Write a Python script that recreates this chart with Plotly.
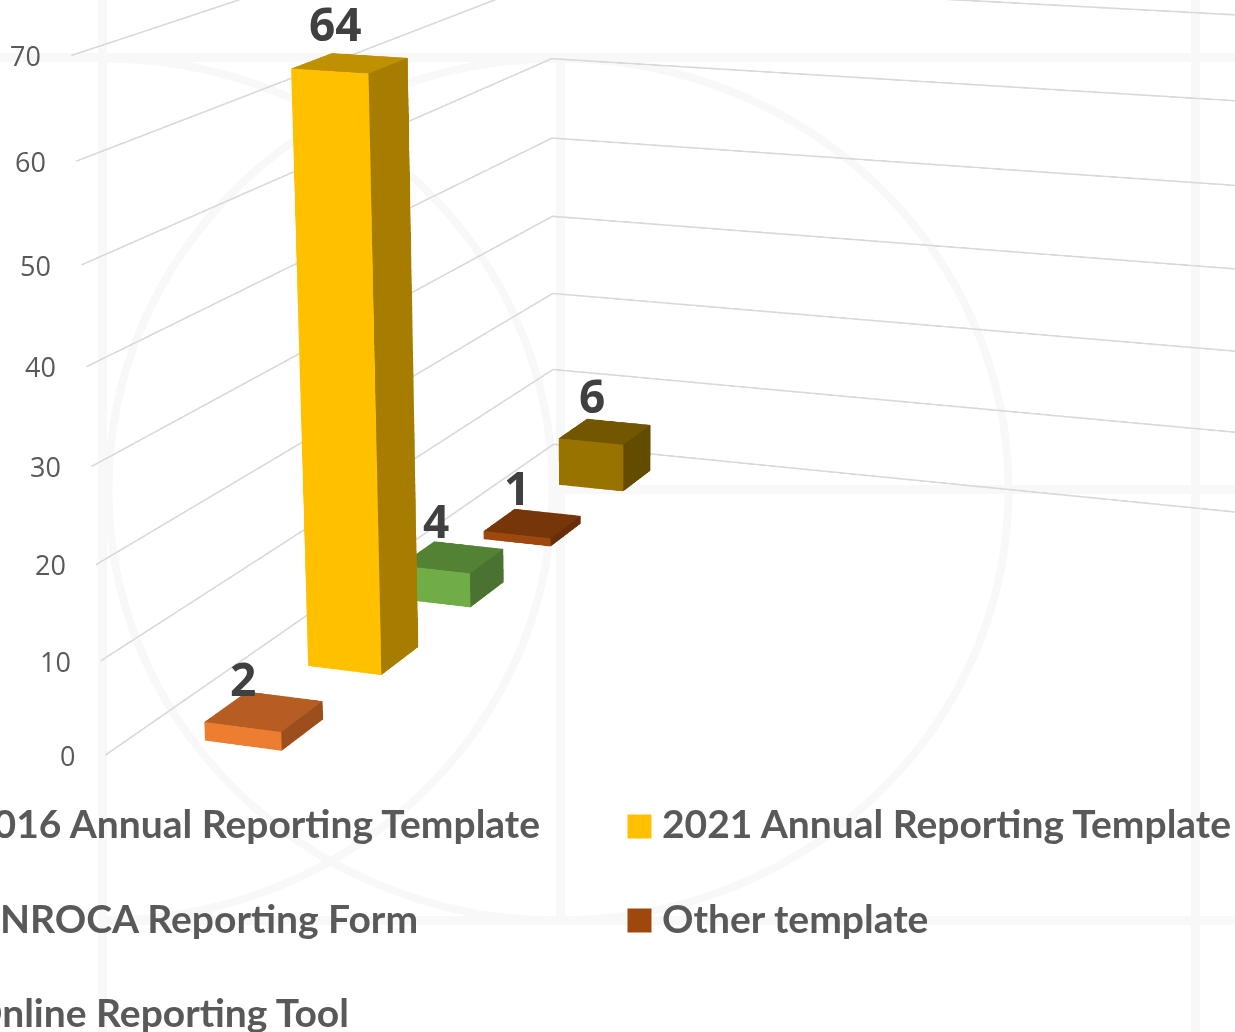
import plotly.graph_objects as go

# ---------- data ----------
categories = ["2016 Annual Reporting Template", "2021 Annual Reporting Template",
              "UNROCA Reporting Form", "Other template", "Online Reporting Tool"]
values = [2, 64, 4, 1, 6]
front_colors = ["#ED7D31", "#FFC000", "#70AD47", "#9E480E", "#997300"]
top_colors = ["#B55D23", "#BF9000", "#548235", "#77360A", "#735600"]
side_colors = ["#9C4F1D", "#A67D00", "#4A7230", "#672E09", "#634B00"]
depth_positions = [4, 3, 2, 1, 0]
z_ticks = [0, 10, 20, 30, 40, 50, 60, 70]

# ---------- layout constants ----------
W = H = 3055
OX, OY = 957.5, 805.5   # window offset of the (telephoto) scene
def fx(px): return (px + OX) / W
def fy(py): return 1 - (py + OY) / H

HALF_X, Y_C, HALF_Y = 0.2, 0.474, 0.172
TICK_COLOR, LABEL_COLOR, LEG_COLOR = "#595959", "#404040", "#595959"
WM = "#F8F8F8"
GRID = "#D9D9D9"
X_WALL, X_FRONT, Y_WALL, Y_RIGHT = -0.497, 4.497, 0.003, 4.997
LABEL_DX = [-21, -14, -16, -15, -13]
LABEL_DY = [33, 40, 37, 36, 37]

fig = go.Figure()
# wall grid lines, one per z tick
for t in z_ticks:
    zt = min(max(t, 0.02), 69.98)
    fig.add_trace(go.Scatter3d(x=[X_FRONT, X_WALL, X_WALL], y=[Y_WALL, Y_WALL, Y_RIGHT], z=[zt, zt, zt],
                               mode="lines", line=dict(color=GRID, width=3), hoverinfo="skip", showlegend=False))

for c, v, p, fc, tc, sc in zip(categories, values, depth_positions, front_colors, top_colors, side_colors):
    x0, x1 = p - HALF_X, p + HALF_X
    y0, y1 = Y_C - HALF_Y, Y_C + HALF_Y
    xs = [x0, x1, x1, x0, x0, x1, x1, x0]
    ys = [y0, y0, y1, y1, y0, y0, y1, y1]
    zs = [0, 0, 0, 0, v, v, v, v]
    i = [1, 1, 2, 2, 4, 4, 0, 0, 0, 0, 3, 3]
    j = [2, 6, 3, 7, 5, 6, 1, 2, 1, 5, 0, 4]
    k = [6, 5, 7, 6, 6, 7, 2, 3, 5, 4, 4, 7]
    colors = [fc, fc, sc, sc, tc, tc, fc, fc, fc, fc, sc, sc]
    fig.add_trace(go.Mesh3d(x=xs, y=ys, z=zs, i=i, j=j, k=k, facecolor=colors, flatshading=True,
                            name=c, hoverinfo="skip", showscale=False,
                            lighting=dict(ambient=1, diffuse=0, specular=0, roughness=1, fresnel=0)))

hidden = dict(showgrid=False, showline=False, showticklabels=False, ticks="", zeroline=False,
              showspikes=False, showbackground=False, title="")
ann3d = []
for t in z_ticks:
    ann3d.append(dict(x=4.5, y=0, z=t, text=str(t), showarrow=False, xanchor="right", yanchor="middle",
                      xshift=-27, font=dict(family="Open Sans", size=27, color=TICK_COLOR)))
for v, p, dx, dy in zip(values, depth_positions, LABEL_DX, LABEL_DY):
    ann3d.append(dict(x=p, y=Y_C, z=v, text=str(v), showarrow=False, xanchor="center", yanchor="middle",
                      xshift=dx, yshift=dy,
                      font=dict(family="Open Sans", size=46, color=LABEL_COLOR, weight="bold")))

def seg(x0, y0, x1, y1):
    return dict(type="line", xref="paper", yref="paper", x0=fx(x0), x1=fx(x1), y0=fy(y0), y1=fy(y1),
                line=dict(color=WM, width=9), layer="below")

def half_ellipse(cx, cy, rx, ry, sign):
    k = 0.5523
    p = lambda x, y: f"{fx(x):.6f},{fy(y):.6f}"
    return ("M" + p(cx, cy - ry)
            + " C" + p(cx + sign * k * rx, cy - ry) + " " + p(cx + sign * rx, cy - k * ry) + " " + p(cx + sign * rx, cy)
            + " C" + p(cx + sign * rx, cy + k * ry) + " " + p(cx + sign * k * rx, cy + ry) + " " + p(cx, cy + ry))

shapes = [
    seg(102, -50, 102, 1082), seg(560, 57, 560, 920), seg(1195, -50, 1195, 1082),
    seg(-50, 57, 1285, 57), seg(560, 489, 1285, 489), seg(102, 920, 1285, 920),
]
for cx, sign in ((558, 1), (558, -1), (102, 1)):
    shapes.append(dict(type="path", xref="paper", yref="paper", path=half_ellipse(cx, 489, 450, 431, sign),
                       line=dict(color=WM, width=8), layer="below"))

# legend
leg_x = [-32, 659]
leg_y = [822, 917, 1011]
swatch_x = [-64, 627]
swatch_y = [814, 908, 1002]
slots = [(0, 0), (1, 0), (0, 1), (1, 1), (0, 2)]
ann = []
for (col, row), c, fc in zip(slots, categories, front_colors):
    ann.append(dict(xref="paper", yref="paper", x=fx(leg_x[col]), y=fy(leg_y[row]), text=c, showarrow=False,
                    xanchor="left", yanchor="middle", xshift=0,
                    font=dict(family="Lato", size=39, color=LEG_COLOR, weight="bold")))
    shapes.append(dict(type="rect", xref="paper", yref="paper", x0=fx(swatch_x[col]), x1=fx(swatch_x[col] + 24),
                       y0=fy(swatch_y[row] + 24), y1=fy(swatch_y[row]), fillcolor=fc, line=dict(width=0)))

fig.update_layout(
    width=W, height=H, autosize=False, margin=dict(l=0, r=0, t=0, b=0, pad=0),
    paper_bgcolor="white", showlegend=False, shapes=shapes, annotations=ann,
    scene=dict(
        domain=dict(x=[0, 1], y=[0, 1]),
        bgcolor="rgba(0,0,0,0)", dragmode="orbit",
        aspectmode="manual", aspectratio=dict(x=1, y=1, z=0.562),
        xaxis=dict(range=[-0.5, 4.5], **hidden),
        yaxis=dict(range=[0, 5], **hidden),
        zaxis=dict(range=[0, 70], dtick=10, **hidden),
        camera=dict(eye=dict(x=2.965, y=0.847, z=0.7457), center=dict(x=-0.415, y=-0.449, z=-0.5543),
                    up=dict(x=-0.0011, y=0.0028, z=1), projection=dict(type="perspective")),
        annotations=ann3d,
    ),
)

post = f"""
var gd = document.getElementById('{{plot_id}}');
gd.style.position = 'absolute';
gd.style.left = '{-OX}px';
gd.style.top = '{-OY}px';
document.documentElement.style.overflow = 'hidden';
document.body.style.overflow = 'hidden';
"""
fig.write_html("out.html", config=dict(displayModeBar=False), post_script=post)
